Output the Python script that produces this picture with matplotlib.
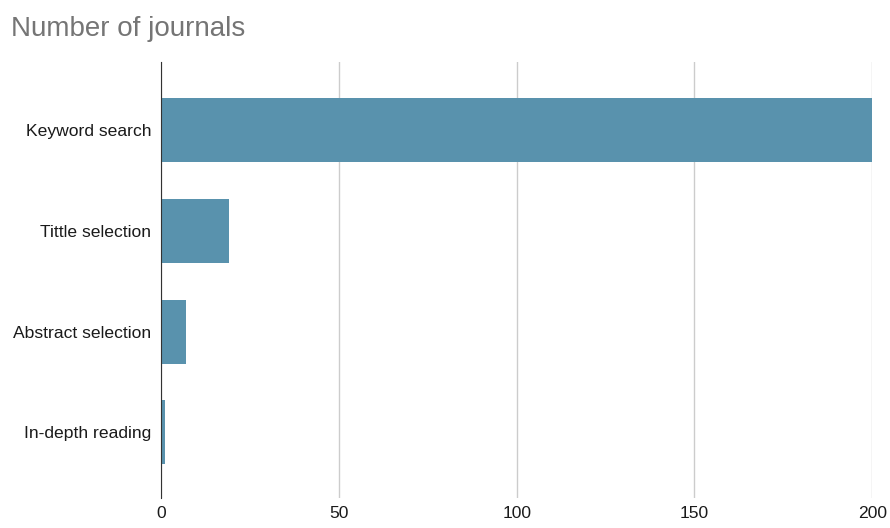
import matplotlib.pyplot as plt

# data
stages = ['Keyword search', 'Tittle selection', 'Abstract selection', 'In-depth reading']
journals = [200, 19, 7, 1]
xticks = [0, 50, 100, 150, 200]

plt.rcParams['font.family'] = ['Liberation Sans', 'DejaVu Sans']

fig = plt.figure(figsize=(8.9, 5.28), dpi=100)
ax = fig.add_axes([0.181, 0.057, 0.799, 0.826])

pos = list(range(len(stages)))
ax.barh(pos, journals, height=0.635, color='#5992ad', zorder=3)

ax.set_yticks(pos)
ax.set_yticklabels(stages, fontsize=12.6, color='#1a1a1a')
ax.set_ylim(3.65, -0.68)
ax.set_xlim(0, 200)
ax.set_xticks(xticks)
ax.set_xticklabels([str(t) for t in xticks], fontsize=12.6, color='#1a1a1a')

ax.grid(axis='x', color='#cccccc', linewidth=1, zorder=0)
for s in ['top', 'right', 'bottom']:
    ax.spines[s].set_visible(False)
ax.spines['left'].set_color('#333333')
ax.spines['left'].set_zorder(4)
ax.tick_params(axis='y', length=0, pad=7)
ax.tick_params(axis='x', length=0, pad=6)

fig.text(0.012, 0.945, 'Number of journals', fontsize=20, color='#757575', va='center')

fig.savefig('out.png', dpi=100)
